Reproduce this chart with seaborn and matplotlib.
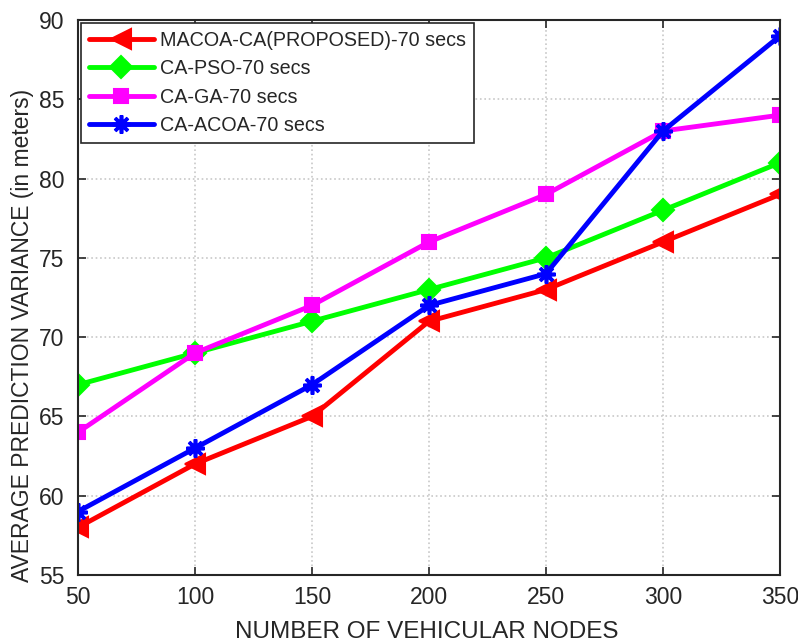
import matplotlib
matplotlib.use("Agg")
import matplotlib.pyplot as plt
import seaborn as sns
import pandas as pd

nodes = [50, 100, 150, 200, 250, 300, 350]
macoa = [58, 62, 65, 71, 73, 76, 79]
pso = [67, 69, 71, 73, 75, 78, 81]
ga = [64, 69, 72, 76, 79, 83, 84]
acoa = [59, 63, 67, 72, 74, 83, 89]
labels = ["MACOA-CA(PROPOSED)-70 secs", "CA-PSO-70 secs", "CA-GA-70 secs", "CA-ACOA-70 secs"]
colors = ["#ff0000", "#00ff00", "#ff00ff", "#0000ff"]
markers = ["<", "D", "s", (8, 2, 0)]
msizes = [14, 11, 10, 13]
mews = [1.5, 1.5, 1.5, 2.6]

sns.set_theme(style="white")
plt.rcParams['font.family'] = ['Liberation Sans', 'DejaVu Sans']

df = pd.DataFrame({"nodes": nodes * 4,
                   "value": macoa + pso + ga + acoa,
                   "series": sum([[l] * len(nodes) for l in labels], [])})

fig = plt.figure(figsize=(7.98, 6.44), dpi=100)
ax = fig.add_axes([78 / 798, 1 - 575 / 644, (780 - 78) / 798, (575 - 20) / 644])

for lab, c, m, ms, mw in zip(labels, colors, markers, msizes, mews):
    sub = df[df.series == lab]
    sns.lineplot(data=sub, x="nodes", y="value", ax=ax, color=c, marker=m,
                 markersize=ms, linewidth=3.5, markeredgecolor=c, markerfacecolor=c,
                 markeredgewidth=mw, label=lab)

ax.set_xlim(50, 350)
ax.set_ylim(55, 90)
ax.set_xticks(nodes)
ax.set_yticks(range(55, 91, 5))
ax.grid(True, color="#c8c8c8", linestyle=":", linewidth=1.2)
for s in ax.spines.values():
    s.set_color("#262626")
    s.set_linewidth(1.5)
ax.tick_params(direction="in", length=6, width=1.2, colors="#262626", labelsize=16.5,
               top=True, right=True, bottom=True, left=True)
ax.tick_params(axis="x", pad=8)
ax.tick_params(axis="y", pad=10)
ax.set_xlabel("NUMBER OF VEHICULAR NODES", fontsize=17.5, color="#262626")
ax.set_ylabel("AVERAGE PREDICTION VARIANCE (in meters)", fontsize=16.5, color="#262626")
ax.xaxis.set_label_coords(0.497, -0.082)
ax.yaxis.set_label_coords(-0.062, 0.432)

leg = ax.legend(loc="upper left", fontsize=14.2, frameon=True, fancybox=False,
                edgecolor="#262626", framealpha=1, borderaxespad=0.15,
                handlelength=3.3, handletextpad=0.3, labelspacing=0.48, borderpad=0.4)
leg.get_frame().set_linewidth(1.2)

fig.savefig("out.png", dpi=100)
